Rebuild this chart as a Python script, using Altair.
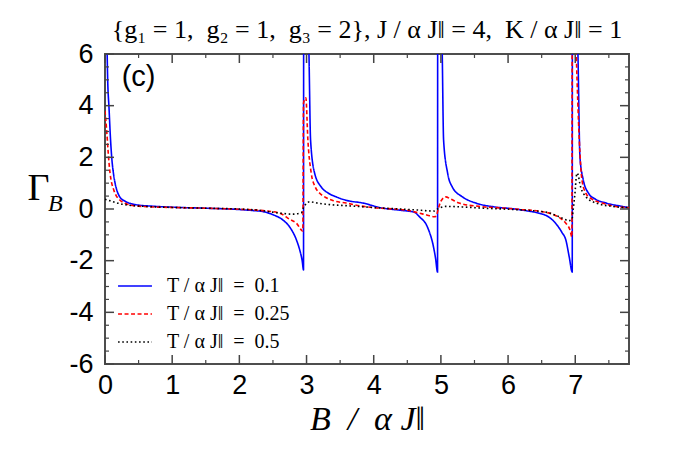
import altair as alt
import pandas as pd

# ---- data ----
B_01 = [0.0, 0.02, 0.04, 0.06, 0.08, 0.10, 0.13, 0.15, 0.18, 0.22, 0.30, 0.37, 0.50, 0.70, 1.00,
        1.50, 2.00, 2.20, 2.35, 2.50, 2.65, 2.75, 2.85, 2.90, 2.935, 2.955, 2.958, 3.036, 3.06, 3.12,
        3.22, 3.32, 3.44, 3.60, 3.84, 4.10, 4.40, 4.60, 4.68, 4.80, 4.89, 4.92, 4.95, 4.953, 5.02,
        5.04, 5.10, 5.17, 5.32, 5.52, 5.80, 6.10, 6.30, 6.46, 6.60, 6.69, 6.80, 6.86, 6.91, 6.955,
        6.958, 7.04, 7.07, 7.12, 7.20, 7.30, 7.46, 7.70, 7.80]
G_01 = [12, 8.0, 5.0, 3.9, 2.8, 2.0, 1.3, 1.0, 0.7, 0.47, 0.3, 0.22, 0.15, 0.11, 0.07,
        0.03, -0.02, -0.06, -0.1, -0.22, -0.43, -0.7, -1.2, -1.6, -2.0, -2.36, 12, 6.0, 2.67, 1.39,
        0.85, 0.62, 0.47, 0.33, 0.23, 0.05, -0.05, -0.12, -0.3, -0.7, -1.47, -1.9, -2.44, 12, 6.0,
        2.67, 1.39, 0.85, 0.47, 0.23, 0.08, 0.0, -0.08, -0.16, -0.3, -0.5, -0.9, -1.2, -1.85, -2.44,
        12, 6.0, 2.0, 1.12, 0.6, 0.38, 0.23, 0.1, 0.05]

B_025 = [0.0, 0.02, 0.035, 0.05, 0.075, 0.10, 0.13, 0.17, 0.22, 0.30, 0.37, 0.50, 0.70, 1.00,
         1.50, 2.00, 2.30, 2.60, 2.75, 2.85, 2.945, 2.955, 2.99, 3.02, 3.07, 3.13, 3.20, 3.27, 3.40,
         3.59, 3.80, 4.00, 4.30, 4.50, 4.68, 4.80, 4.90, 4.93, 4.96, 5.00, 5.07, 5.15, 5.27, 5.57,
         5.90, 6.20, 6.50, 6.69, 6.80, 6.86, 6.92, 6.95, 6.957, 7.015, 7.06, 7.10, 7.16, 7.25, 7.40,
         7.60, 7.80]
G_025 = [3.8, 3.2, 2.67, 2.1, 1.39, 1.0, 0.74, 0.5, 0.35, 0.22, 0.15, 0.11, 0.08, 0.06,
         0.03, -0.01, -0.05, -0.16, -0.4, -0.55, -0.85, 4.1, 4.3, 2.67, 1.39, 0.85, 0.6, 0.47, 0.32,
         0.23, 0.12, 0.05, 0.0, -0.05, -0.16, -0.24, -0.3, -0.28, 0.0, 0.3, 0.47, 0.38, 0.23, 0.1,
         0.04, -0.02, -0.1, -0.23, -0.4, -0.55, -0.8, -1.08, 12, 6.0, 2.67, 1.12, 0.6, 0.38, 0.23,
         0.1, 0.05]

B_05 = [0.0, 0.10, 0.20, 0.35, 0.60, 1.00, 1.50, 2.00, 2.30, 2.60, 2.79, 2.92, 2.96, 3.05,
        3.18, 3.35, 3.59, 4.10, 4.60, 4.90, 4.95, 5.07, 5.32, 5.57, 6.07, 6.56, 6.76, 6.91, 6.95,
        6.97, 7.00, 7.015, 7.03, 7.08, 7.16, 7.31, 7.56, 7.80]
G_05 = [0.38, 0.3, 0.22, 0.15, 0.1, 0.06, 0.03, 0.0, -0.05, -0.16, -0.2, -0.15, 0.08, 0.28,
        0.22, 0.17, 0.13, 0.04, -0.03, -0.08, 0.0, 0.1, 0.08, 0.04, -0.02, -0.12, -0.3, -0.45, -0.4,
        0.0, 0.74, 1.25, 1.39, 0.85, 0.47, 0.23, 0.1, 0.05]

series_labels = ["T / α J‖\u00a0\u00a0=\u00a0\u00a00.1",
                 "T / α J‖\u00a0\u00a0=\u00a0\u00a00.25",
                 "T / α J‖\u00a0\u00a0=\u00a0\u00a00.5"]
series_colors = ["#0000ff", "#ff0000", "#000000"]

x_major = [0, 1, 2, 3, 4, 5, 6, 7]
x_minor = [0.5, 1.5, 2.5, 3.5, 4.5, 5.5, 6.5, 7.5]
y_major = [-6, -4, -2, 0, 2, 4, 6]
y_minor = [-5.5, -5, -4.5, -3.5, -3, -2.5, -1.5, -1, -0.5, 0.5, 1, 1.5, 2.5, 3, 3.5, 4.5, 5, 5.5]

title_text = "{g₁ = 1,\u00a0 g₂ = 1,\u00a0 g₃ = 2}, J / α J‖ = 4,\u00a0 K / α J‖ = 1"

# ---- build ----
W, H = 524, 310
rows = []
for lab, bs, gs in zip(series_labels, [B_01, B_025, B_05], [G_01, G_025, G_05]):
    assert len(bs) == len(gs)
    rows += [{"B": b, "G": g, "T": lab} for b, g in zip(bs, gs)]
df = pd.DataFrame(rows)

xs = alt.Scale(domain=[0, 7.8], nice=False, zero=False)
ys = alt.Scale(domain=[-6, 6], nice=False, zero=False)

hyphen = "datum.value < 0 ? '-' + abs(datum.value) : '' + datum.value"

xaxis = alt.Axis(
    values=x_major, title="B\u00a0\u00a0/\u00a0\u00a0α\u00a0J‖", ticks=False, tickSize=0,
    domain=False, grid=False, labelFlush=False, labelExpr=hyphen,
    labelFont="Liberation Sans", labelFontSize=27, labelColor="#000", labelPadding=8,
    titleFont="Liberation Serif", titleFontStyle="italic", titleFontWeight="normal",
    titleFontSize=34, titleColor="#000", titlePadding=4)
yaxis = alt.Axis(
    values=y_major, title="Γ", ticks=False, tickSize=0, domain=False, grid=False,
    labelExpr=hyphen, labelFlush=False,
    labelFont="Liberation Sans", labelFontSize=27, labelColor="#000", labelPadding=12,
    titleFont="Liberation Serif", titleFontWeight="normal", titleFontSize=38,
    titleColor="#000", titleAngle=0, titleAlign="center", titleBaseline="middle",
    titleX=-67, titleY=134)

lines = alt.Chart(df).mark_line(clip=True, strokeCap="butt", interpolate="monotone").encode(
    x=alt.X("B:Q", scale=xs, axis=xaxis),
    y=alt.Y("G:Q", scale=ys, axis=yaxis),
    color=alt.Color("T:N", scale=alt.Scale(domain=series_labels, range=series_colors),
                    legend=alt.Legend(title=None)),
    strokeDash=alt.StrokeDash("T:N", scale=alt.Scale(domain=series_labels,
                                                      range=[[1, 0], [4, 2.5], [1.6, 2.6]]),
                              legend=alt.Legend(title=None)),
    strokeWidth=alt.StrokeWidth("T:N", scale=alt.Scale(domain=series_labels,
                                                        range=[1.6, 1.6, 2.5]),
                                legend=alt.Legend(title=None)),
)

def ticks(vals, axis, side, L, w):
    d = pd.DataFrame({"B": vals, "G": vals})
    m = alt.Chart(d).mark_rule(color="#444444", strokeWidth=w)
    if axis == "x":
        enc = dict(x=alt.X("B:Q", scale=xs, axis=xaxis))
        if side == "bottom":
            enc.update(y=alt.value(H), y2=alt.value(H - L))
        else:
            enc.update(y=alt.value(0), y2=alt.value(L))
    else:
        enc = dict(y=alt.Y("G:Q", scale=ys, axis=yaxis))
        if side == "left":
            enc.update(x=alt.value(0), x2=alt.value(L))
        else:
            enc.update(x=alt.value(W), x2=alt.value(W - L))
    return m.encode(**enc)

tick_layers = [
    ticks(x_major, "x", "bottom", 9, 1.5), ticks(x_minor, "x", "bottom", 4, 1.2),
    ticks(x_major, "x", "top", 9, 1.5), ticks(x_minor, "x", "top", 4, 1.2),
    ticks(y_major, "y", "left", 9, 1.5), ticks(y_minor, "y", "left", 4, 1.2),
    ticks(y_major, "y", "right", 9, 1.5), ticks(y_minor, "y", "right", 4, 1.2),
]

panel = alt.Chart(pd.DataFrame({"B": [0.5], "G": [5.1], "t": ["(c)"]})).mark_text(
    font="Liberation Sans", fontSize=29, color="#000", align="center", baseline="middle"
).encode(x=alt.X("B:Q", scale=xs, axis=xaxis), y=alt.Y("G:Q", scale=ys, axis=yaxis), text="t:N")

sub_b = alt.Chart(pd.DataFrame({"B": [-0.85], "G": [0.2], "t": ["B"]})).mark_text(
    font="Liberation Serif", fontSize=24, fontStyle="italic", color="#000",
    align="left", baseline="middle", clip=False
).encode(x=alt.X("B:Q", scale=xs, axis=xaxis), y=alt.Y("G:Q", scale=ys, axis=yaxis), text="t:N")

chart = alt.layer(lines, *tick_layers, panel, sub_b).properties(
    width=W, height=H,
    title=alt.Title(title_text, font="Liberation Serif", fontSize=26, fontWeight="normal",
                    color="#000", anchor="middle", offset=8, dy=11),
    padding={"left": 97, "top": 46, "right": 63, "bottom": 78},
    autosize=alt.AutoSizeParams(type="none"),
).configure_view(stroke="#4d4d4d", strokeWidth=2).configure_legend(
    orient="none", legendX=12, legendY=214, symbolType="stroke", symbolSize=1150,
    symbolStrokeWidth=1.6, labelFont="Liberation Serif", labelFontSize=20, labelColor="#000",
    labelOffset=14, rowPadding=-9, padding=0, fillColor="white", strokeColor=None
)

chart.save("out.html", embed_options={"renderer": "svg", "actions": False})
